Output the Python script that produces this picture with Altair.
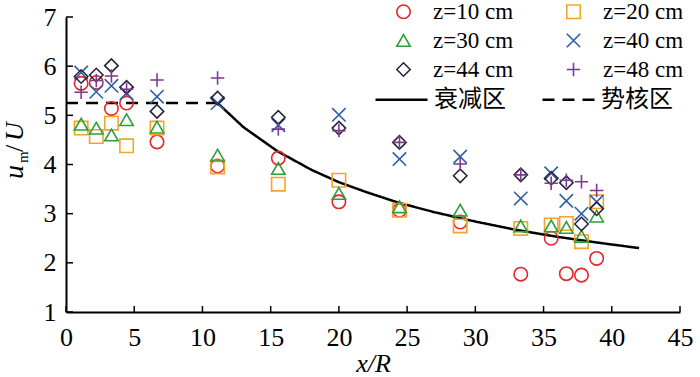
import altair as alt
import pandas as pd

# ---------------- data ----------------
x_R = [1.11, 2.22, 3.33, 4.44, 6.67, 11.11, 15.56, 20.0, 24.44, 28.89,
       33.33, 35.56, 36.67, 37.78, 38.89]

series_names = ["z=10 cm", "z=20 cm", "z=30 cm", "z=40 cm", "z=44 cm", "z=48 cm"]
u_z10 = [5.65, 5.67, 5.14, 5.25, 4.46, 3.97, 4.13, 3.24, 3.07, 2.83, 1.77, 2.50, 1.78, 1.75, 2.09]
u_z20 = [4.74, 4.57, 4.84, 4.38, 4.74, 3.95, 3.60, 3.68, 3.07, 2.75, 2.70, 2.77, 2.80, 2.43, 3.24]
u_z30 = [4.82, 4.74, 4.60, 4.91, 4.76, 4.19, 3.92, 3.41, 3.14, 3.07, 2.75, 2.75, 2.72, 2.54, 2.95]
u_z40 = [5.87, 5.48, 5.60, 5.45, 5.38, 5.25, 4.80, 5.01, 4.11, 4.16, 3.31, 3.82, 3.26, 3.00, 3.24]
u_z44 = [5.79, 5.82, 6.01, 5.57, 5.08, 5.35, 4.96, 4.74, 4.45, 3.77, 3.79, 3.72, 3.63, 2.79, 3.10]
u_z48 = [5.47, 5.71, 5.80, 5.53, 5.72, 5.76, 4.72, 4.69, 4.45, 4.01, 3.79, 3.62, 3.68, 3.65, 3.47]

series_colors = ["#e5262b", "#f5a42a", "#2f9e3c", "#2f5fa7", "#2b2340", "#7a3b8f"]
series_shapes = ["circle", "square", "triangle-up",
                 "M-1,-1L1,1M-1,1L1,-1", "diamond", "M-1,0L1,0M0,-1L0,1"]

line_names = ["衰减区", "势核区"]
core_x = [0.0, 11.11]
core_u = [5.25, 5.25]
decay_x = [11.11, 13, 15.5, 18, 20, 22, 24.4, 27, 30, 33, 36, 39, 42]
decay_u = [5.25, 4.76, 4.27, 3.89, 3.64, 3.44, 3.22, 3.03, 2.84, 2.67, 2.53, 2.41, 2.30]

x_ticks = [0, 5, 10, 15, 20, 25, 30, 35, 40, 45]
y_ticks = [1, 2, 3, 4, 5, 6, 7]

# ---------------- tables ----------------
all_u = [u_z10, u_z20, u_z30, u_z40, u_z44, u_z48]
pts = pd.DataFrame([
    {"x": xv, "u": uv, "series": name, "k": i}
    for i, (name, us) in enumerate(zip(series_names, all_u))
    for xv, uv in zip(x_R, us)
])
lines = pd.DataFrame(
    [{"x": a, "u": b, "region": line_names[0]} for a, b in zip(decay_x, decay_u)]
    + [{"x": a, "u": b, "region": line_names[1]} for a, b in zip(core_x, core_u)]
)
xt = pd.DataFrame({"t": x_ticks})
yt = pd.DataFrame({"t": y_ticks})

# legend fills column by column: reorder so rows read 10|20, 30|40, 44|48
leg_order = [0, 2, 4, 1, 3, 5]
leg_domain = [series_names[i] for i in leg_order]
leg_colors = [series_colors[i] for i in leg_order]
leg_shapes = [series_shapes[i] for i in leg_order]

W, H = 614, 295
SERIF = "Liberation Serif"
CJK = "Noto Sans CJK SC"

xscale = alt.Scale(domain=[0, 45], nice=False, zero=False)
yscale = alt.Scale(domain=[1, 7], nice=False, zero=False)

xaxis = alt.Axis(values=x_ticks, ticks=False, grid=False, domainColor="black",
                 domainWidth=2, labelFont=SERIF, labelFontSize=26, labelColor="black",
                 labelPadding=12, title="x/R", titleFont=SERIF, titleFontSize=26,
                 titleFontStyle="italic", titleFontWeight="normal", titleColor="black",
                 titlePadding=0, labelFlush=False)
yaxis = alt.Axis(values=y_ticks, ticks=False, grid=False, domainColor="black",
                 domainWidth=2, labelFont=SERIF, labelFontSize=26, labelColor="black",
                 labelPadding=10, title=None, labelFlush=False)

line_layer = alt.Chart(lines).mark_line(color="black", strokeWidth=2.5).encode(
    x=alt.X("x:Q", scale=xscale, axis=xaxis),
    y=alt.Y("u:Q", scale=yscale, axis=yaxis),
    strokeDash=alt.StrokeDash(
        "region:N",
        scale=alt.Scale(domain=line_names, range=[[1, 0], [12, 8]]),
        legend=alt.Legend(orient="none", legendX=308, legendY=55, columns=2,
                          columnPadding=31, title=None, padding=0,
                          labelFont=CJK, labelFontSize=24, labelColor="black",
                          labelOffset=5, symbolType="stroke", symbolSize=2704,
                          symbolStrokeColor="black", symbolStrokeWidth=2.5),
    ),
    detail="region:N",
)

point_layer = alt.Chart(pts).mark_point(filled=False, strokeWidth=1.6, size=180, opacity=1).encode(
    x=alt.X("x:Q", scale=xscale),
    y=alt.Y("u:Q", scale=yscale),
    color=alt.Color("series:N", scale=alt.Scale(domain=leg_domain, range=leg_colors),
                    legend=alt.Legend(orient="none", legendX=326, legendY=-17, columns=2,
                                      columnPadding=48, rowPadding=5, title=None, padding=0,
                                      labelFont=SERIF, labelFontSize=23, labelColor="black",
                                      labelOffset=18, symbolSize=180, symbolStrokeWidth=1.6)),
    shape=alt.Shape("series:N", scale=alt.Scale(domain=leg_domain, range=leg_shapes)),
    order=alt.Order("k:Q"),
)

xtick_layer = alt.Chart(xt).mark_rule(color="black", strokeWidth=1.5).encode(
    x=alt.X("t:Q", scale=xscale), y=alt.value(H), y2=alt.value(H - 6))
ytick_layer = alt.Chart(yt).mark_rule(color="black", strokeWidth=1.5).encode(
    y=alt.Y("t:Q", scale=yscale), x=alt.value(0), x2=alt.value(7))

one = pd.DataFrame({"a": [0]})
def label(txt, xp, yp, size, style, font=SERIF):
    return alt.Chart(one).mark_text(text=txt, angle=270, align="left", baseline="alphabetic",
                                    font=font, fontSize=size, fontStyle=style,
                                    color="black").encode(x=alt.value(xp), y=alt.value(yp))

ytitle = (label("u", -43, 162, 28, "italic")
          + label("m", -38, 146, 15, "normal")
          + label("/", -43, 135, 26, "normal")
          + label("U", -43, 124, 26, "italic"))

chart = alt.layer(line_layer, point_layer, xtick_layer, ytick_layer, ytitle).properties(
    width=W, height=H,
    autosize=alt.AutoSizeParams(type="none"),
    padding={"left": 66, "top": 17, "right": 20, "bottom": 65},
    background="white",
).configure_view(stroke=None).resolve_scale(color="independent", shape="independent", strokeDash="independent")

chart.save("out.html", embed_options={"renderer": "svg", "actions": False})
